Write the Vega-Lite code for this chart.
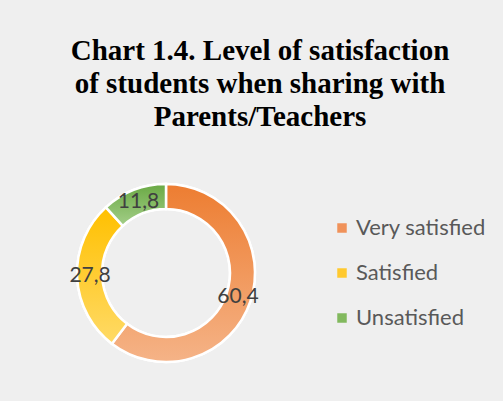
{
  "$schema": "https://vega.github.io/schema/vega-lite/v6.json",
  "width": 200,
  "height": 200,
  "autosize": {"type": "none"},
  "padding": {"left": 66, "top": 173, "right": 237, "bottom": 28},
  "background": "#efefef",
  "view": {"stroke": null},
  "title": {
    "text": ["Chart 1.4. Level of satisfaction", "of students when sharing with", "Parents/Teachers"],
    "font": "Liberation Serif",
    "fontSize": 29,
    "fontWeight": "bold",
    "color": "#000000",
    "lineHeight": 33,
    "anchor": "middle",
    "frame": "group",
    "dx": 94,
    "offset": 41
  },
  "data": {
    "values": [
      {"cat": "Very satisfied", "v": 60.4, "lab": "60,4", "n": 1},
      {"cat": "Satisfied", "v": 27.8, "lab": "27,8", "n": 2},
      {"cat": "Unsatisfied", "v": 11.8, "lab": "11,8", "n": 3}
    ]
  },
  "encoding": {
    "theta": {"field": "v", "type": "quantitative", "stack": true},
    "order": {"field": "n", "type": "quantitative"}
  },
  "layer": [
    {
      "mark": {"type": "arc", "outerRadius": 89, "innerRadius": 64, "stroke": "#ffffff", "strokeWidth": 2.5},
      "encoding": {
        "color": {
          "field": "cat",
          "type": "nominal",
          "scale": {"domain": ["Very satisfied", "Satisfied", "Unsatisfied"], "range": ["#f0925a", "#ffc92f", "#82b95e"]},
          "legend": {
            "title": null,
            "orient": "none",
            "legendX": 265,
            "legendY": 44,
            "symbolType": "square",
            "symbolSize": 90,
            "symbolStrokeWidth": 0,
            "labelFont": "Lato",
            "labelFontSize": 22,
            "labelColor": "#595959",
            "labelOffset": 3,
            "rowPadding": 23
          }
        }
      }
    },
    {
      "mark": {"type": "arc", "outerRadius": 89, "innerRadius": 64, "stroke": "#ffffff", "strokeWidth": 2.5},
      "encoding": {
        "fill": {
          "condition": [
            {"test": "datum.cat === 'Very satisfied'", "value": {"gradient": "linear", "x1": 0, "y1": 0, "x2": 0, "y2": 1, "stops": [{"offset": 0, "color": "#ed7d31"}, {"offset": 1, "color": "#f5b387"}]}},
            {"test": "datum.cat === 'Satisfied'", "value": {"gradient": "linear", "x1": 0, "y1": 0, "x2": 0, "y2": 1, "stops": [{"offset": 0, "color": "#ffc000"}, {"offset": 1, "color": "#ffda66"}]}}
          ],
          "value": {"gradient": "linear", "x1": 0, "y1": 0, "x2": 0, "y2": 1, "stops": [{"offset": 0, "color": "#6aa944"}, {"offset": 1, "color": "#a3ce88"}]}
        }
      }
    },
    {
      "mark": {"type": "text", "radius": 76, "font": "Lato", "fontSize": 21, "color": "#404040"},
      "encoding": {
        "text": {"field": "lab", "type": "nominal"}
      }
    }
  ]
}
